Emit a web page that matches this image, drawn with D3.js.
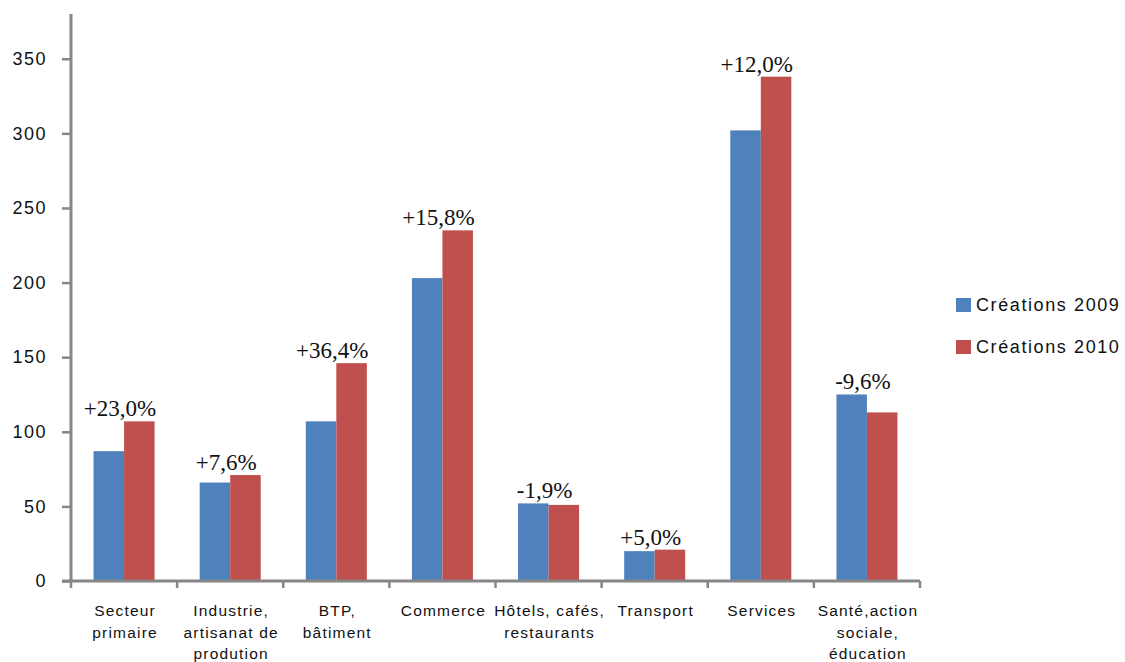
<!DOCTYPE html>
<html>
<head>
<meta charset="utf-8">
<script src="https://cdn.jsdelivr.net/npm/d3@7"></script>
<style>
  html, body { margin: 0; padding: 0; background: #fff; }
  svg { display: block; }
</style>
</head>
<body>
<svg id="chart" width="1125" height="662"></svg>
<script>
const categories = [
  ["Secteur", "primaire"],
  ["Industrie,", "artisanat de", "prodution"],
  ["BTP,", "bâtiment"],
  ["Commerce"],
  ["Hôtels, cafés,", "restaurants"],
  ["Transport"],
  ["Services"],
  ["Santé,action", "sociale,", "éducation"]
];
const seriesNames = ["Créations 2009", "Créations 2010"];
const values2009 = [87, 66, 107, 203, 52, 20, 302, 125];
const values2010 = [107, 71, 146, 235, 51, 21, 338, 113];
const changeLabels = ["+23,0%", "+7,6%", "+36,4%", "+15,8%", "-1,9%", "+5,0%", "+12,0%", "-9,6%"];
const yTicks = [0, 50, 100, 150, 200, 250, 300, 350];
const colors = ["#4F81BD", "#C0504D"];

(function () {
const svg = d3.select("#chart");
const pLeft = 71, pRight = 920, pTop = 14, pBottom = 581;
const keys = categories.map((c, i) => i);

const x = d3.scaleBand().domain(keys).range([pLeft, pRight])
  .paddingInner(0.425).paddingOuter(0.2125);
const xs = d3.scaleBand().domain([0, 1]).range([0, x.bandwidth()]);
const y = d3.scaleLinear().domain([0, 380]).range([pBottom, pTop]);

const series = [values2009, values2010];

// bars
const groups = svg.append("g").selectAll("g").data(keys).join("g")
  .attr("transform", i => `translate(${x(i)},0)`);
groups.selectAll("rect")
  .data(i => series.map((s, k) => ({ k, v: s[i] })))
  .join("rect")
  .attr("x", d => xs(d.k))
  .attr("y", d => y(d.v))
  .attr("width", xs.bandwidth())
  .attr("height", d => y(0) - y(d.v))
  .attr("fill", d => colors[d.k]);

// percent labels
svg.append("g").selectAll("text").data(keys).join("text")
  .attr("x", i => x(i) + x.bandwidth() / 2 - 4)
  .attr("y", i => y(Math.max(values2009[i], values2010[i])) - 5)
  .attr("text-anchor", "middle")
  .attr("font-family", "'Liberation Serif', 'Times New Roman', serif")
  .attr("font-size", 23)
  .attr("fill", "#111")
  .text(i => changeLabels[i]);

// y axis
const yAxis = d3.axisLeft(y).tickValues(yTicks).tickSize(9).tickPadding(15)
  .tickFormat(d3.format("d"));
const yg = svg.append("g").attr("transform", `translate(${pLeft},0)`).call(yAxis);
yg.select(".domain").remove();
yg.selectAll(".tick line").attr("stroke", "#868686").attr("stroke-width", 2.5);
yg.selectAll(".tick text")
  .attr("font-family", "'Liberation Sans', Arial, sans-serif")
  .attr("font-size", 18)
  .attr("letter-spacing", "1.5px")
  .attr("fill", "#111");
svg.append("line").attr("x1", pLeft).attr("x2", pLeft)
  .attr("y1", y.range()[1]).attr("y2", pBottom + 1)
  .attr("stroke", "#868686").attr("stroke-width", 3);

// x axis
const step = x.step();
const boundaries = keys.map(i => x(i) - step * x.paddingInner() / 2)
  .concat([x(keys[keys.length - 1]) + x.bandwidth() + step * x.paddingInner() / 2]);
svg.append("line").attr("x1", pLeft - 9).attr("x2", pRight)
  .attr("y1", pBottom).attr("y2", pBottom)
  .attr("stroke", "#868686").attr("stroke-width", 3);
svg.append("g").selectAll("line").data(boundaries).join("line")
  .attr("x1", d => d).attr("x2", d => d)
  .attr("y1", pBottom).attr("y2", pBottom + 7)
  .attr("stroke", "#868686").attr("stroke-width", 2.5);

// category labels
const catG = svg.append("g").selectAll("text").data(keys).join("text")
  .attr("text-anchor", "middle")
  .attr("font-family", "'Liberation Sans', Arial, sans-serif")
  .attr("font-size", 15.5)
  .attr("letter-spacing", "1.2px")
  .attr("fill", "#111");
catG.each(function (i) {
  const t = d3.select(this);
  categories[i].forEach((line, j) => {
    t.append("tspan")
      .attr("x", x(i) + x.bandwidth() / 2 + 1)
      .attr("y", 616 + j * 21.5)
      .text(line);
  });
});

// legend
const lg = svg.append("g").selectAll("g").data(seriesNames).join("g")
  .attr("transform", (d, k) => `translate(956, ${298 + k * 42})`);
lg.append("rect").attr("width", 15).attr("height", 14)
  .attr("fill", (d, k) => colors[k]);
lg.append("text").attr("x", 20).attr("y", 13)
  .attr("font-family", "'Liberation Sans', Arial, sans-serif")
  .attr("font-size", 18)
  .attr("letter-spacing", "1.6px")
  .attr("fill", "#111")
  .text(d => d);
})();
</script>
</body>
</html>
